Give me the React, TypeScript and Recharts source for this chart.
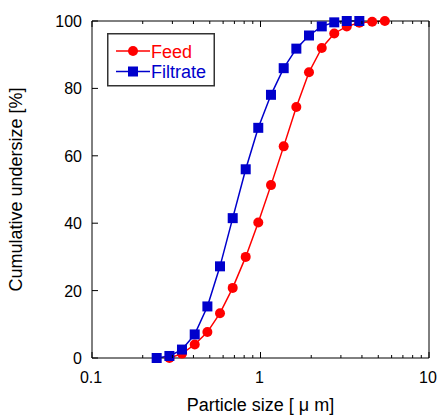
import React from 'react';
import { LineChart, Line, XAxis, YAxis, Legend } from 'recharts';

// particle size (µm) and cumulative undersize (%)
const feedSize = [0.288, 0.342, 0.407, 0.484, 0.575, 0.684, 0.817, 0.97, 1.154, 1.373, 1.632, 1.94, 2.31, 2.74, 3.25, 3.86, 4.6, 5.47];
const feedUndersize = [0, 1.3, 4.0, 7.7, 13.3, 20.8, 30.0, 40.2, 51.3, 62.8, 74.5, 84.8, 92.0, 96.3, 98.4, 99.5, 99.8, 100];

const filtrateSize = [0.242, 0.288, 0.342, 0.407, 0.484, 0.575, 0.684, 0.817, 0.97, 1.154, 1.373, 1.632, 1.94, 2.31, 2.74, 3.25, 3.86];
const filtrateUndersize = [0, 0.6, 2.5, 7.0, 15.3, 27.2, 41.5, 56.0, 68.3, 78.1, 86.0, 91.8, 95.7, 98.4, 99.6, 100, 100];

const xMajorTicks = [0.1, 1, 10];
const xTicks = [0.1, 0.2, 0.3, 0.4, 0.5, 0.6, 0.7, 0.8, 0.9, 1, 2, 3, 4, 5, 6, 7, 8, 9, 10];
const yTicks = [0, 20, 40, 60, 80, 100];

const feedData = feedSize.map((size, i) => ({ size, pct: feedUndersize[i] }));
const filtrateData = filtrateSize.map((size, i) => ({ size, pct: filtrateUndersize[i] }));

const RED = '#ff0000';
const BLUE = '#0000cc';
const FONT = '"Liberation Sans", Arial, sans-serif';

const isMajor = (v: number) => xMajorTicks.includes(v);

function BottomTick({ x, y, payload }: any) {
  const major = isMajor(payload.value);
  return (
    <g>
      <line x1={x} x2={x} y1={y} y2={y - (major ? 6 : 3)} stroke="#000" />
      {major && (
        <text x={x - 1} y={y + 25} textAnchor="middle" fontSize={16} fill="#000" fontFamily={FONT}>
          {payload.value}
        </text>
      )}
    </g>
  );
}

function TopTick({ x, y, payload }: any) {
  const major = isMajor(payload.value);
  return <line x1={x} x2={x} y1={y} y2={y + (major ? 6 : 3)} stroke="#000" />;
}

function LeftTick({ x, y, payload }: any) {
  return (
    <g>
      <line x1={x} x2={x + 6} y1={y} y2={y} stroke="#000" />
      <text x={x - 10} y={y + 6} textAnchor="end" fontSize={16} fill="#000" fontFamily={FONT}>
        {payload.value}
      </text>
    </g>
  );
}

function RightTick({ x, y }: any) {
  return <line x1={x} x2={x - 6} y1={y} y2={y} stroke="#000" />;
}

function SquareDot({ cx, cy, index }: any) {
  return <rect key={`sq-${index}`} x={cx - 5} y={cy - 5} width={10} height={10} fill={BLUE} />;
}

function CircleDot({ cx, cy, index }: any) {
  return <circle key={`c-${index}`} cx={cx} cy={cy} r={5} fill={RED} />;
}

function LegendBox() {
  return (
    <svg width={108} height={54} style={{ display: 'block' }}>
      <rect x={0.75} y={0.75} width={106.5} height={52} fill="#fff" stroke="#333" strokeWidth={1.5} />
      <line x1={9} x2={43} y1={18} y2={18} stroke={RED} strokeWidth={1.5} />
      <circle cx={26} cy={18} r={5} fill={RED} />
      <text x={44} y={24.5} fontSize={18} fill={RED} fontFamily={FONT}>Feed</text>
      <line x1={9} x2={43} y1={38.5} y2={38.5} stroke={BLUE} strokeWidth={1.5} />
      <rect x={21} y={33.5} width={10} height={10} fill={BLUE} />
      <text x={44} y={45} fontSize={18} fill={BLUE} fontFamily={FONT}>Filtrate</text>
    </svg>
  );
}

export default function App() {
  return (
    <div style={{ position: 'absolute', left: 0, top: 0, width: 440, height: 416, background: '#fff' }}>
      <LineChart width={440} height={416} margin={{ top: 20, right: 10, bottom: 0, left: 0 }}>
        <XAxis
          xAxisId="b"
          dataKey="size"
          type="number"
          scale="log"
          domain={[0.1, 10]}
          allowDataOverflow
          ticks={xTicks}
          interval={0}
          tickSize={0}
          tickMargin={0}
          tickLine={false}
          tick={<BottomTick />}
          axisLine={{ stroke: '#000' }}
          height={58}
          label={{
            content: ({ viewBox }: any) => (
              <text
                x={viewBox.x + viewBox.width / 2}
                y={viewBox.y + 53}
                textAnchor="middle"
                fontSize={18}
                fill="#000"
                fontFamily={FONT}
              >
                Particle size [ μ m]
              </text>
            ),
          }}
        />
        <XAxis
          xAxisId="t"
          orientation="top"
          dataKey="size"
          type="number"
          scale="log"
          domain={[0.1, 10]}
          allowDataOverflow
          ticks={xTicks}
          interval={0}
          tickSize={0}
          tickMargin={0}
          tickLine={false}
          tick={<TopTick />}
          axisLine={{ stroke: '#000' }}
          height={1}
        />
        <YAxis
          yAxisId="l"
          type="number"
          domain={[0, 100]}
          ticks={yTicks}
          interval={0}
          tickSize={0}
          tickMargin={0}
          tickLine={false}
          tick={<LeftTick />}
          axisLine={{ stroke: '#000' }}
          width={92}
          label={{
            content: ({ viewBox }: any) => {
              const cx = 22;
              const cy = viewBox.y + viewBox.height / 2;
              return (
                <text
                  x={cx}
                  y={cy}
                  transform={`rotate(-90 ${cx} ${cy})`}
                  textAnchor="middle"
                  fontSize={18}
                  fill="#000"
                  fontFamily={FONT}
                >
                  Cumulative undersize [%]
                </text>
              );
            },
          }}
        />
        <YAxis
          yAxisId="r"
          orientation="right"
          type="number"
          domain={[0, 100]}
          ticks={yTicks}
          interval={0}
          tickSize={0}
          tickMargin={0}
          tickLine={false}
          tick={<RightTick />}
          axisLine={{ stroke: '#000' }}
          width={1}
        />
        <Legend
          layout="vertical"
          align="center"
          verticalAlign="middle"
          wrapperStyle={{ left: 107, top: 33, width: 108, height: 54 }}
          content={() => <LegendBox />}
        />
        <Line
          xAxisId="b"
          yAxisId="l"
          data={feedData}
          dataKey="pct"
          name="Feed"
          type="linear"
          stroke={RED}
          strokeWidth={1.5}
          dot={CircleDot}
          activeDot={false}
          isAnimationActive={false}
        />
        <Line
          xAxisId="b"
          yAxisId="l"
          data={filtrateData}
          dataKey="pct"
          name="Filtrate"
          type="linear"
          stroke={BLUE}
          strokeWidth={1.5}
          dot={SquareDot}
          activeDot={false}
          isAnimationActive={false}
        />
      </LineChart>
    </div>
  );
}
